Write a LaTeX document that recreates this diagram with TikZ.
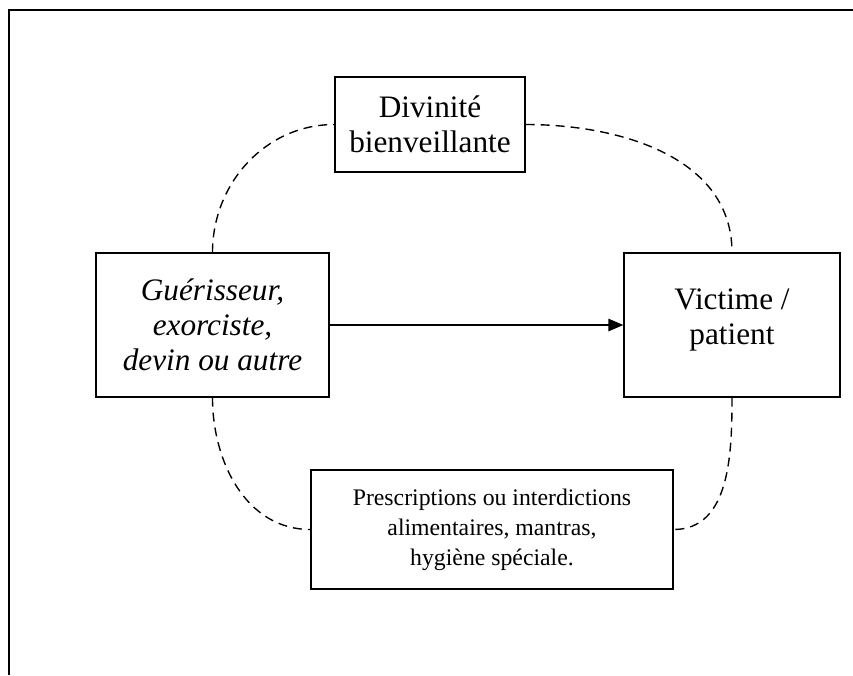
\documentclass[tikz,border=0pt]{standalone}
\usepackage{fontspec}
\setmainfont{Liberation Serif}
\usetikzlibrary{arrows.meta}

\begin{document}
\begin{tikzpicture}[x=0.4pt, y=-0.4pt,
        box/.style={draw, line width=0.5pt, align=center, inner sep=0pt,
            font=\fontsize{12.5}{14}\selectfont},
        link/.style={draw, line width=0.55pt, dash pattern=on 3.6pt off 2.4pt}]
        \useasboundingbox (0, 0) rectangle (853, 675);

        % frame
        \draw[line width=0.5pt] (853, 10) -- (9, 10) -- (9, 675);

        \node[box, minimum width=76pt, minimum height=38pt] (div) at (430, 124.5)
            {Divinité\\bienveillante};
        \node[box, minimum width=93.2pt, minimum height=57.6pt] (gue) at (212.5, 325)
            {\itshape Guérisseur,\\\itshape exorciste,\\\itshape devin ou autre};
        \node[box, minimum width=86.4pt, minimum height=57.6pt] (vic) at (732, 325)
            {Victime /\\patient\\[-7.5pt]};
        \node[box, minimum width=144.8pt, minimum height=47.6pt,
            font=\fontsize{9.5}{12}\selectfont] (pre) at (492, 529.5)
            {Prescriptions ou interdictions\\alimentaires, mantras,\\hygiène spéciale.};

        \draw[line width=0.5pt, -{Triangle[length=6pt, width=5pt]}] (gue) -- (vic);

        \draw[link] (gue.north) to[out=90, in=180] (div.west);
        \draw[link] (div.east) to[out=0, in=90] (vic.north);
        \draw[link] (vic.south) to[out=-90, in=0] (pre.east);
        \draw[link] (gue.south) to[out=-90, in=180] (pre.west);
\end{tikzpicture}
\end{document}
